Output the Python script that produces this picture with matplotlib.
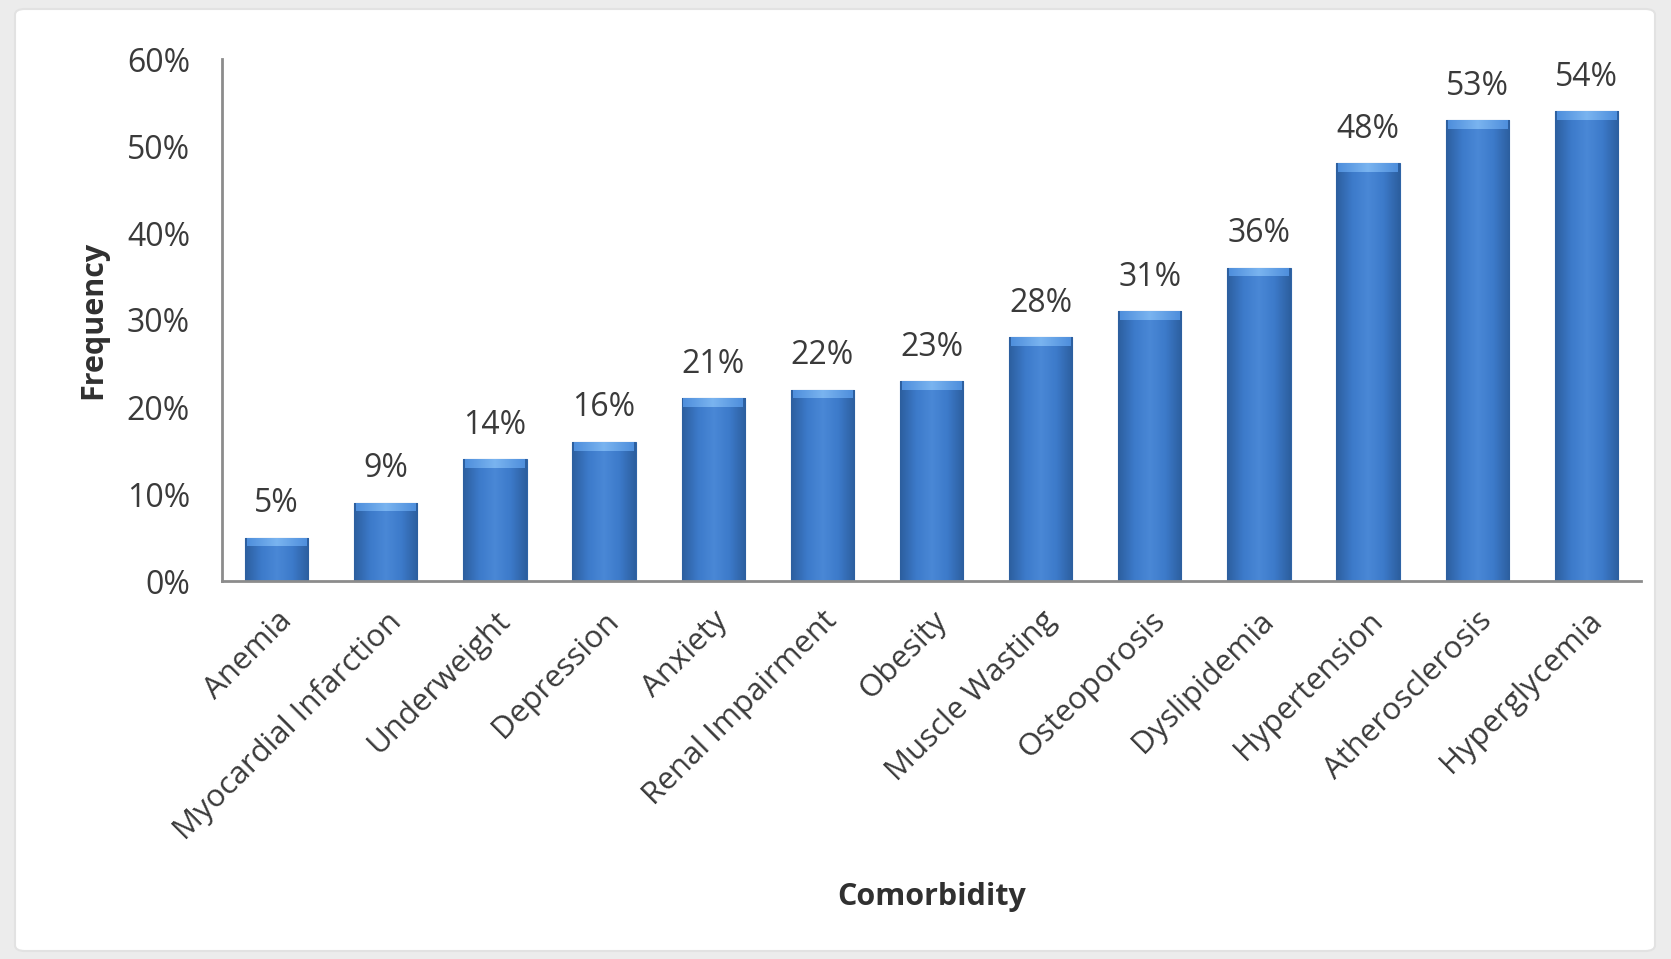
import numpy as np
import matplotlib
matplotlib.use("Agg")
import matplotlib.pyplot as plt
from matplotlib.patches import FancyBboxPatch
from matplotlib.colors import LinearSegmentedColormap
from matplotlib.ticker import FuncFormatter

categories = ["Anemia", "Myocardial Infarction", "Underweight", "Depression", "Anxiety",
              "Renal Impairment", "Obesity", "Muscle Wasting", "Osteoporosis",
              "Dyslipidemia", "Hypertension", "Atherosclerosis", "Hyperglycemia"]
values = [5, 9, 14, 16, 21, 22, 23, 28, 31, 36, 48, 53, 54]
yticks = [0, 10, 20, 30, 40, 50, 60]

plt.rcParams['font.family'] = ['Open Sans', 'DejaVu Sans']

fig = plt.figure(figsize=(16.71, 9.59), dpi=100)
fig.patch.set_facecolor("#ececec")
panel = FancyBboxPatch((15 / 1671, 8 / 959), (1655 - 15) / 1671, (950 - 8) / 959,
                       boxstyle="round,pad=0,rounding_size=0.006",
                       transform=fig.transFigure, facecolor="white",
                       edgecolor="#e2e2e2", linewidth=1.5, zorder=-10)
fig.patches.append(panel)

ax = fig.add_axes([222 / 1671, 1 - 581 / 959, (1641 - 222) / 1671, (581 - 59) / 959])
ax.set_facecolor("none")
ax.set_zorder(1)

x = np.arange(len(categories))
width = 0.58
bars = ax.bar(x, values, width=width, color="#3f7ccb", edgecolor="#2f64a6",
              linewidth=0.8, zorder=2)

cmap = LinearSegmentedColormap.from_list("bar", ["#2c5f9f", "#3c7aca", "#4a88d6",
                                                 "#3c7aca", "#2c5f9f"])
capmap = LinearSegmentedColormap.from_list("cap", ["#4f8fdc", "#7ab4f0", "#4f8fdc"])
grad = np.linspace(0, 1, 64).reshape(1, -1)
for b, v in zip(bars, values):
    x0 = b.get_x()
    im = ax.imshow(grad, cmap=cmap, aspect="auto", extent=(x0, x0 + width, 0, v),
                   zorder=2.1, interpolation="bicubic")
    im.set_clip_path(b)
    cap = min(1.0, v * 0.3)
    im2 = ax.imshow(grad, cmap=capmap, aspect="auto",
                    extent=(x0 + width * 0.03, x0 + width * 0.97, v - cap, v),
                    zorder=2.2, interpolation="bicubic")
    im2.set_clip_path(b)
    ax.text(b.get_x() + width / 2, v + 2.0, f"{v}%", ha="center", va="bottom",
            fontsize=23, color="#3a3a3a")

ax.set_xlim(-0.5, len(categories) - 0.5)
ax.set_ylim(0, 60)
ax.set_yticks(yticks)
ax.yaxis.set_major_formatter(FuncFormatter(lambda v, p: f"{int(v)}%"))
ax.tick_params(axis="y", length=0, pad=23, labelsize=23, labelcolor="#3a3a3a")
ax.set_xticks(x)
ax.set_xticklabels(categories, rotation=45, ha="right", rotation_mode="anchor",
                   fontsize=22.5, color="#3a3a3a")
ax.tick_params(axis="x", length=0, pad=18)

for s in ["top", "right"]:
    ax.spines[s].set_visible(False)
for s in ["left", "bottom"]:
    ax.spines[s].set_color("#8c8c8c")
    ax.spines[s].set_linewidth(2)

ax.set_xlabel("Comorbidity", fontsize=22, fontweight="bold", color="#303030")
ax.xaxis.set_label_coords(0.5, 1 - (882 - 59) / (581 - 59), transform=ax.transAxes)
ax.set_ylabel("Frequency", fontsize=22, fontweight="bold", color="#303030")
ax.yaxis.set_label_coords((108 - 222) / (1641 - 222), 0.5)

fig.savefig("out.png", dpi=100, facecolor=fig.get_facecolor())
